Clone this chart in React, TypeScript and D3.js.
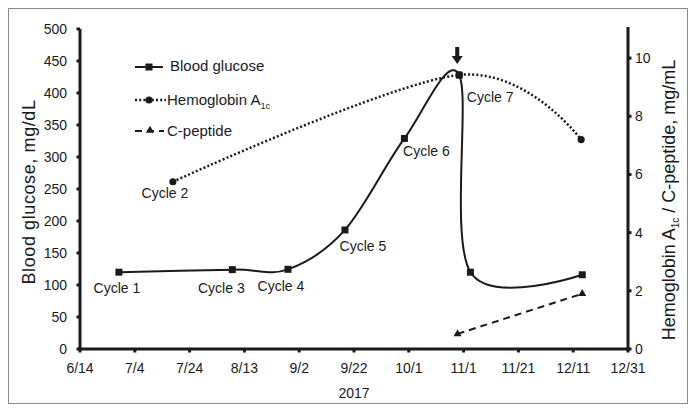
import React from "react";
import * as d3 from "d3";

// ---- data ----
const xTickDays = [0, 20, 40, 60, 80, 100, 120, 140, 160, 180, 200];
const xTickLabels = ["6/14", "7/4", "7/24", "8/13", "9/2", "9/22", "10/1", "11/1", "11/21", "12/11", "12/31"];
const leftTicks = [0, 50, 100, 150, 200, 250, 300, 350, 400, 450, 500];
const rightTicks = [0, 2, 4, 6, 8, 10];

// days since 6/14 (axis units), values
const glucoseDays = [14.2, 55.6, 75.9, 96.7, 118.4, 138.4, 142.5, 183.3];
const glucoseValues = [120, 124, 124.5, 186, 329, 428, 120, 116];

const hba1cDays = [33.9, 138.4, 182.9];
const hba1cValues = [5.75, 9.42, 7.2];

const cpeptideDays = [137.8, 183.3];
const cpeptideValues = [0.52, 1.9];

// cycle labels: series + index of point
const cycleLabels = ["Cycle 1", "Cycle 2", "Cycle 3", "Cycle 4", "Cycle 5", "Cycle 6", "Cycle 7"];
const cycleSeries = ["g", "h", "g", "g", "g", "g", "g"];
const cycleIndex = [0, 0, 1, 2, 3, 4, 5];

// ---- layout ----
const W = 696;
const H = 414;
const X0 = 80, X1 = 628, Y0 = 349, Y1 = 29;
const labelOffsets: [number, number][] = [
  [-2, 21], [-8, 16], [-11, 23], [-7, 22], [18, 21], [22, 18], [31, 27],
];
const FONT = "'Liberation Sans', Arial, Helvetica, sans-serif";
const INK = "#1a1a1a";

export default function App() {
  const x = d3.scaleLinear().domain([0, 200]).range([X0, X1]);
  const yL = d3.scaleLinear().domain([0, 500]).range([Y0, Y1]);
  const yR = d3.scaleLinear().domain([0, 11]).range([Y0, Y1]);

  const gPts = glucoseDays.map((d, i) => [x(d), yL(glucoseValues[i])] as [number, number]);
  const hPts = hba1cDays.map((d, i) => [x(d), yR(hba1cValues[i])] as [number, number]);
  const cPts = cpeptideDays.map((d, i) => [x(d), yR(cpeptideValues[i])] as [number, number]);

  const smooth = d3.line().curve(d3.curveCardinal.tension(0));
  const straight = d3.line();

  const tri = d3.symbol().type(d3.symbolTriangle).size(28)() as string;

  const ptFor = (i: number) => {
    const s = cycleSeries[i];
    return s === "g" ? gPts[cycleIndex[i]] : hPts[cycleIndex[i]];
  };

  const arrowX = gPts[5][0] - 2;

  return (
    <svg
      width={W}
      height={H}
      style={{ position: "absolute", left: 0, top: 0, background: "#fff" }}
      fontFamily={FONT}
    >
      <rect x={8.5} y={8.5} width={679} height={395} fill="#fff" stroke="#8a8a8a" strokeWidth={1} />

      {/* axes */}
      <line x1={X0} y1={Y1} x2={X0} y2={Y0 + 1.5} stroke={INK} strokeWidth={3} />
      <line x1={X1} y1={Y1 - 2} x2={X1} y2={Y0 + 1.5} stroke={INK} strokeWidth={3} />
      <line x1={X0 - 1.5} y1={Y0} x2={X1 + 1.5} y2={Y0} stroke={INK} strokeWidth={3} />

      {leftTicks.map((t) => (
        <g key={"l" + t}>
          <line x1={X0 - 3.5} x2={X0} y1={yL(t)} y2={yL(t)} stroke={INK} strokeWidth={3} />
          <text x={X0 - 13} y={yL(t) + 5} textAnchor="end" fontSize={14} fill={INK}>{t}</text>
        </g>
      ))}
      {rightTicks.map((t) => (
        <g key={"r" + t}>
          <line x1={X1} x2={X1 + 3.5} y1={yR(t)} y2={yR(t)} stroke={INK} strokeWidth={3} />
          <text x={X1 + 7} y={yR(t) + 5} textAnchor="start" fontSize={14} fill={INK}>{t}</text>
        </g>
      ))}
      {xTickDays.map((d, i) => (
        <g key={"x" + d}>
          <line x1={x(d)} x2={x(d)} y1={Y0} y2={Y0 + 3.5} stroke={INK} strokeWidth={3} />
          <text x={x(d)} y={373} textAnchor="middle" fontSize={14} fill={INK}>{xTickLabels[i]}</text>
        </g>
      ))}

      <text x={(X0 + X1) / 2} y={398} textAnchor="middle" fontSize={14} fill={INK}>2017</text>

      <text transform={`translate(35,192) rotate(-90)`} textAnchor="middle" fontSize={18} letterSpacing={0.6} fill={INK}>
        Blood glucose, mg/dL
      </text>
      <text transform={`translate(675,200) rotate(-90)`} textAnchor="middle" fontSize={18} fill={INK}>
        <tspan>Hemoglobin A</tspan>
        <tspan fontSize={10} dy={4}>1c</tspan>
        <tspan dy={-4}> / C-peptide, mg/mL</tspan>
      </text>

      {/* series */}
      <path d={smooth(hPts) as string} fill="none" stroke={INK} strokeWidth={2.5} strokeDasharray="2,2.2" />
      <path d={straight(cPts) as string} fill="none" stroke={INK} strokeWidth={2} strokeDasharray="7,5" />
      <path d={smooth(gPts) as string} fill="none" stroke={INK} strokeWidth={2} />

      {hPts.map((p, i) => (
        <circle key={"hp" + i} cx={p[0]} cy={p[1]} r={3.6} fill={INK} />
      ))}
      {gPts.map((p, i) => (
        <rect key={"gp" + i} x={p[0] - 3.5} y={p[1] - 3.5} width={7} height={7} fill={INK} />
      ))}
      {cPts.map((p, i) => (
        <path key={"cp" + i} d={tri} transform={`translate(${p[0]},${p[1]})`} fill={INK} />
      ))}

      {/* arrow */}
      <path
        d={`M${arrowX - 2},47 L${arrowX + 2},47 L${arrowX + 2},56 L${arrowX + 5.5},56 L${arrowX},64 L${arrowX - 5.5},56 L${arrowX - 2},56 Z`}
        fill={INK}
      />

      {cycleLabels.map((lab, i) => {
        const p = ptFor(i);
        return (
          <text key={lab} x={p[0] + labelOffsets[i][0]} y={p[1] + labelOffsets[i][1]} textAnchor="middle" fontSize={14} fill={INK}>
            {lab}
          </text>
        );
      })}

      {/* legend */}
      <g>
        <line x1={135} x2={163} y1={67} y2={67} stroke={INK} strokeWidth={2} />
        <rect x={145.5} y={63.5} width={7} height={7} fill={INK} />
        <text x={170} y={71} fontSize={15} fill={INK}>Blood glucose</text>

        <line x1={135} x2={166} y1={100} y2={100} stroke={INK} strokeWidth={2.5} strokeDasharray="2,2.2" />
        <circle cx={149} cy={100} r={3.6} fill={INK} />
        <text x={167} y={104.5} fontSize={15} fill={INK}>
          <tspan>Hemoglobin A</tspan>
          <tspan fontSize={9} dy={4}>1c</tspan>
        </text>

        <line x1={135} x2={164} y1={131} y2={131} stroke={INK} strokeWidth={2} strokeDasharray="7,5" />
        <path d={tri} transform="translate(150,130.5)" fill={INK} />
        <text x={167} y={136} fontSize={15} fill={INK}>C-peptide</text>
      </g>
    </svg>
  );
}
